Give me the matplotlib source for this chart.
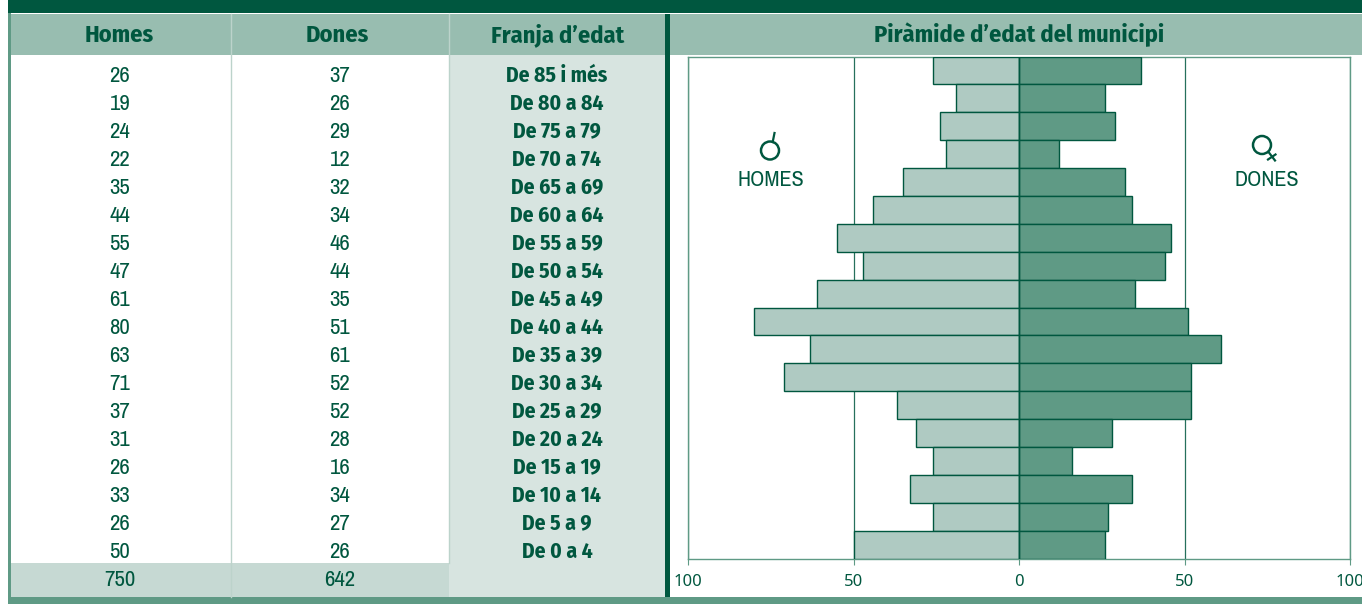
import matplotlib
matplotlib.use('Agg')
import matplotlib.pyplot as plt
from matplotlib.patches import Rectangle, Circle

# Dades de la taula
franges = ["De 85 i més", "De 80 a 84", "De 75 a 79", "De 70 a 74", "De 65 a 69", "De 60 a 64",
           "De 55 a 59", "De 50 a 54", "De 45 a 49", "De 40 a 44", "De 35 a 39", "De 30 a 34",
           "De 25 a 29", "De 20 a 24", "De 15 a 19", "De 10 a 14", "De 5 a 9", "De 0 a 4"]
homes = [26, 19, 24, 22, 35, 44, 55, 47, 61, 80, 63, 71, 37, 31, 26, 33, 26, 50]
dones = [37, 26, 29, 12, 32, 34, 46, 44, 35, 51, 61, 52, 52, 28, 16, 34, 27, 26]
total_homes = "750"
total_dones = "642"
capcaleres = ["Homes", "Dones", "Franja d’edat"]
titol_piramide = "Piràmide d’edat del municipi"
ticks_x = [-100, -50, 0, 50, 100]
ticks_etiquetes = ["100", "50", "0", "50", "100"]

FOSC = '#00573f'
MIG = '#5f9a85'
CAP = '#98bdb0'
FRANJA = '#d7e4e0'
TOTAL = '#c6d9d3'
CLAR = '#afcac2'
NARROW = ['Archivo Narrow', 'Liberation Sans Narrow', 'Liberation Sans', 'DejaVu Sans']
NARROW_B = ['Fira Sans Condensed', 'Liberation Sans Narrow', 'Liberation Sans', 'DejaVu Sans']

W, H = 1362, 604
fig = plt.figure(figsize=(W / 100, H / 100), dpi=100)

# Fons en coordenades de píxel
bg = fig.add_axes([0, 0, 1, 1])
bg.set_xlim(0, W)
bg.set_ylim(H, 0)
bg.axis('off')


def rect(x0, y0, x1, y1, color, z=1):
    bg.add_patch(Rectangle((x0, y0), x1 - x0, y1 - y0, facecolor=color, edgecolor='none', zorder=z))


rect(8, 0, W, 13, FOSC)
rect(8, 13, 11, 604, MIG)
rect(11, 14, W, 55, CAP)
rect(449, 55, 665, 597, FRANJA)
rect(11, 563, 449, 597, TOTAL)
rect(665, 14, 670, 597, FOSC, z=2)
rect(8, 597, W, 604, MIG, z=2)
bg.plot([230.5, 230.5], [14, 597], color='#bcd3cb', lw=1, zorder=2)
bg.plot([448.5, 448.5], [14, 563], color='#bcd3cb', lw=1, zorder=2)

# Capçaleres
for x, txt in zip([119, 337, 558], capcaleres):
    bg.text(x, 35, txt, ha='center', va='center', color=FOSC, family=NARROW_B, weight='bold', fontsize=17.5)
bg.text(1019, 35, titol_piramide, ha='center', va='center', color=FOSC, family=NARROW_B, weight='bold',
        fontsize=17.5)

# Files de la taula
for i in range(len(franges)):
    y = 76 + i * 28
    bg.text(120, y, str(homes[i]), ha='center', va='center', color=FOSC, family=NARROW, fontsize=16.5)
    bg.text(340, y, str(dones[i]), ha='center', va='center', color=FOSC, family=NARROW, fontsize=16.5)
    bg.text(557, y - 0.5, franges[i], ha='center', va='center', color=FOSC, family=NARROW_B, weight='bold',
            fontsize=15.5)
bg.text(120, 580, total_homes, ha='center', va='center', color=FOSC, family=NARROW, fontsize=16.5)
bg.text(340, 580, total_dones, ha='center', va='center', color=FOSC, family=NARROW, fontsize=16.5)

# Piràmide
ax_x0, ax_x1, ax_y0, ax_y1 = 688, 1350, 56.5, 558.5
ax = fig.add_axes([ax_x0 / W, 1 - ax_y1 / H, (ax_x1 - ax_x0) / W, (ax_y1 - ax_y0) / H])
ax.patch.set_alpha(0)
pos = list(range(len(franges)))
ax.barh(pos, [-v for v in homes], height=1, color=CLAR, edgecolor=FOSC, linewidth=1, zorder=3)
ax.barh(pos, dones, height=1, color=MIG, edgecolor=FOSC, linewidth=1, zorder=3)
ax.set_xlim(-100, 100)
ax.set_ylim(len(franges) - 0.5, -0.5)
ax.set_yticks([])
ax.set_xticks(ticks_x)
ax.set_xticklabels(ticks_etiquetes, family='Noto Sans', fontsize=12, color=FOSC)
ax.tick_params(axis='x', length=4, width=0.8, color=MIG, pad=7.5)
ax.xaxis.grid(True, color=FOSC, lw=0.9, alpha=0.85, zorder=1)
ax.set_axisbelow(True)
for s in ax.spines.values():
    s.set_color(MIG)
    s.set_linewidth(1)
ax.axvline(0, color=FOSC, lw=1, zorder=4)

# Símbols i rètols
bg.add_patch(Circle((770, 150.5), 9, fill=False, edgecolor=FOSC, lw=1.8, zorder=5))
bg.plot([772.7, 774.5], [142, 133], color=FOSC, lw=1.6, zorder=5)
bg.add_patch(Circle((1262, 145), 9, fill=False, edgecolor=FOSC, lw=1.8, zorder=5))
bg.plot([1268.5, 1275], [152, 160.5], color=FOSC, lw=1.6, zorder=5)
bg.plot([1268, 1275.5], [159.5, 154.5], color=FOSC, lw=1.6, zorder=5)
bg.text(771, 180, "HOMES", ha='center', va='center', color=FOSC, family=NARROW, fontsize=16, zorder=5)
bg.text(1267, 180, "DONES", ha='center', va='center', color=FOSC, family=NARROW, fontsize=16, zorder=5)

fig.savefig('out.png', dpi=100)
